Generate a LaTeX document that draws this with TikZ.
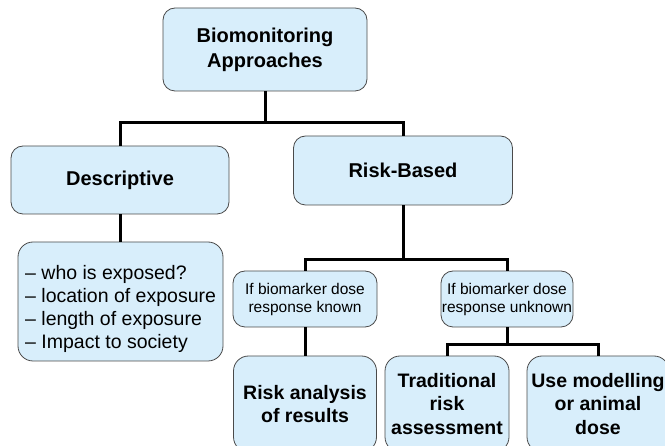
\documentclass[tikz,border=0pt]{standalone}
\usepackage{fontspec}
\setmainfont{Liberation Sans}
\definecolor{boxblue}{HTML}{D8EEFB}
\definecolor{boxedge}{HTML}{4A4A4A}
\begin{document}
\begin{tikzpicture}[x=1pt,y=-1pt,
  box/.style={draw=boxedge, line width=0.8pt, fill=boxblue, rounded corners=12pt,
    inner sep=0pt, align=center},
  bigbold/.style={font=\bfseries\fontsize{20}{25}\selectfont},
  lowbold/.style={font=\bfseries\fontsize{19.5}{23.5}\selectfont},
  small/.style={font=\fontsize{15.5}{18}\selectfont},
  conn/.style={line width=3pt, black}]
\useasboundingbox (0,0) rectangle (665,446);
% boxes
\node[box, bigbold, minimum width=204pt, minimum height=83pt] (top) at (265,49.5) {Biomonitoring\\Approaches};
\node[box, bigbold, minimum width=218pt, minimum height=68pt] (desc) at (120,180) {Descriptive};
\node[box, bigbold, minimum width=219pt, minimum height=69pt] (risk) at (403,170.5) {Risk-Based};
\node[box, minimum width=205pt, minimum height=119pt, rounded corners=15pt] (list) at (120.5,301.5) {};
\node[anchor=west, align=left, inner sep=0pt, font=\fontsize{19.5}{22.7}\selectfont] (listtext) at (25,309)
  {-- who is exposed?\\-- location of exposure\\-- length of exposure\\-- Impact to society};
\node[box, small, minimum width=144pt, minimum height=56pt] (known) at (305,299) {If biomarker dose\\response known};
\node[box, small, minimum width=132pt, minimum height=56pt] (unknown) at (507,299) {If biomarker dose\\response unknown};
\node[box, lowbold, minimum width=143pt, minimum height=96pt, rounded corners=15pt] (rana) at (305,404) {Risk analysis\\of results};
\node[box, lowbold, minimum width=124pt, minimum height=96pt, rounded corners=15pt] (trad) at (447,404) {Traditional\\risk\\assessment};
\node[box, lowbold, minimum width=142pt, minimum height=96pt, rounded corners=15pt] (model) at (598,404) {Use modelling\\or animal\\dose};
% junctions
\coordinate (j1) at (265,123);
\coordinate (j2) at (403,260);
\coordinate (j3) at (507,344.5);
% connectors
\draw[conn] (top.south) -- (j1);
\draw[conn] (j1) -| (desc.north);
\draw[conn] (j1) -| (risk.north);
\draw[conn] (desc.south) -- (desc.south |- list.north);
\draw[conn] (risk.south) -- (j2);
\draw[conn] (j2) -| (known.north);
\draw[conn] (j2) -| (unknown.north);
\draw[conn] (known.south) -- (rana.north);
\draw[conn] (unknown.south) -- (j3);
\draw[conn] (j3) -| (trad.north);
\draw[conn] (j3) -| (model.north);
\end{tikzpicture}
\end{document}
